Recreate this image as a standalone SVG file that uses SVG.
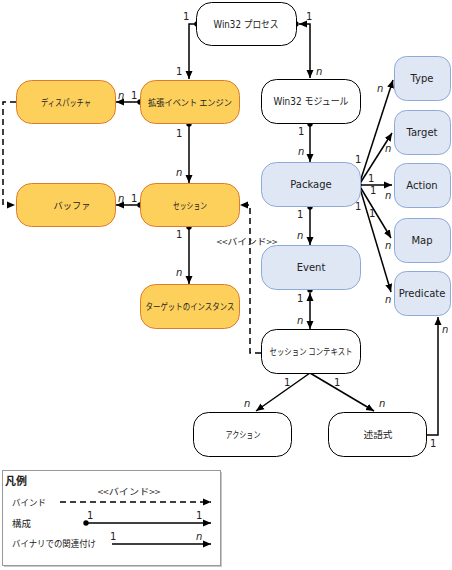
<svg xmlns="http://www.w3.org/2000/svg" width="452" height="570" viewBox="0 0 452 570">
<style>
.w{fill:#fff;stroke:#000;stroke-width:1}
.o{fill:#FDD05C;stroke:#E07A2E;stroke-width:1}
.b{fill:#DFE7F4;stroke:#8EAAD9;stroke-width:1}
.t{font-family:"DejaVu Sans","Noto Sans CJK JP",sans-serif;font-size:10px;fill:#222;text-anchor:middle}
.j{font-family:"Noto Sans CJK JP","DejaVu Sans",sans-serif;font-size:9px;fill:#222;text-anchor:middle}
.l{font-family:"DejaVu Sans",sans-serif;font-size:10px;fill:#222}
.n{font-style:italic}
.c{fill:none;stroke:#000;stroke-width:1.5}
.d{fill:none;stroke:#000;stroke-width:1.5;stroke-dasharray:6,4}
</style>
<defs>
<marker id="a" markerUnits="userSpaceOnUse" markerWidth="9" markerHeight="8" refX="8" refY="4" orient="auto-start-reverse"><path d="M0,0.5 L8,4 L0,7.5 z" fill="#000"/></marker>
<marker id="p" markerUnits="userSpaceOnUse" markerWidth="7" markerHeight="7" refX="3.5" refY="3.5"><circle cx="3.5" cy="3.5" r="2.7" fill="#000"/></marker>
</defs>

<g id="connectors">
<path class="c" d="M197,24 H189 V79" marker-start="url(#p)" marker-end="url(#a)"/>
<circle cx="296" cy="24" r="2.7"/>
<path class="c" d="M299,24 H310 V78" marker-start="url(#a)" marker-end="url(#a)"/>
<path class="c" d="M140,102 H116" marker-start="url(#p)" marker-end="url(#a)"/>
<path class="c" d="M189,124 V183" marker-start="url(#p)" marker-end="url(#a)"/>
<path class="c" d="M140,205 H116" marker-start="url(#p)" marker-end="url(#a)"/>
<path class="c" d="M189,227 V284" marker-start="url(#p)" marker-end="url(#a)"/>
<path class="c" d="M310,124 V162" marker-start="url(#p)" marker-end="url(#a)"/>
<path class="c" d="M310,207 V245" marker-start="url(#p)" marker-end="url(#a)"/>
<circle cx="310" cy="290" r="2.7"/>
<path class="c" d="M310,293 V329" marker-start="url(#a)" marker-end="url(#a)"/>
<path class="c" d="M310,373 L256,411" marker-end="url(#a)"/>
<path class="c" d="M310,373 L374,411" marker-end="url(#a)"/>
<path class="c" d="M427,435 H438 V317" marker-end="url(#a)"/>
<circle cx="359" cy="185" r="2.7"/>
<path class="c" d="M359,185 L393,80" marker-end="url(#a)"/>
<path class="c" d="M359,185 L392,133" marker-end="url(#a)"/>
<path class="c" d="M359,185 L392,185" marker-end="url(#a)"/>
<path class="c" d="M359,185 L391,238" marker-end="url(#a)"/>
<path class="c" d="M359,185 L391,292" marker-end="url(#a)"/>
<path class="d" d="M16,102 H3 V205 H15" marker-end="url(#a)"/>
<path class="d" d="M261,353 H250 V205 H240" marker-end="url(#a)"/>
<text class="j" x="247" y="245" textLength="61" lengthAdjust="spacingAndGlyphs">&lt;&lt;バインド&gt;&gt;</text>
<g class="l">
<text x="183" y="20">1</text>
<text x="176" y="75">1</text>
<text x="306" y="20">1</text>
<text x="316" y="75" class="n">n</text>
<text x="118" y="99" class="n">n</text>
<text x="131" y="99">1</text>
<text x="176" y="137">1</text>
<text x="176" y="176" class="n">n</text>
<text x="118" y="202" class="n">n</text>
<text x="131" y="202">1</text>
<text x="176" y="238">1</text>
<text x="176" y="276" class="n">n</text>
<text x="298" y="135">1</text>
<text x="298" y="155" class="n">n</text>
<text x="297" y="218">1</text>
<text x="297" y="239" class="n">n</text>
<text x="297" y="302">1</text>
<text x="297" y="324" class="n">n</text>
<text x="284" y="386">1</text>
<text x="334" y="386">1</text>
<text x="244" y="407" class="n">n</text>
<text x="379" y="407" class="n">n</text>
<text x="430" y="447">1</text>
<text x="442" y="333" class="n">n</text>
<text x="377" y="92" class="n">n</text>
<text x="355" y="163">1</text>
<text x="385" y="152" class="n">n</text>
<text x="368" y="182">1</text>
<text x="370" y="194">1</text>
<text x="385" y="199" class="n">n</text>
<text x="355" y="210">1</text>
<text x="369" y="217">1</text>
<text x="385" y="249" class="n">n</text>
<text x="385" y="303" class="n">n</text>
</g>
</g>

<g id="win32-process"><rect class="w" x="196.5" y="2.5" width="100" height="43" rx="15"/><text class="t" x="246" y="28" textLength="65" lengthAdjust="spacingAndGlyphs">Win32 プロセス</text></g>
<g id="dispatcher"><rect class="o" x="16.5" y="80.5" width="99" height="43" rx="15"/><text class="j" x="66" y="106" textLength="50" lengthAdjust="spacingAndGlyphs">ディスパッチャ</text></g>
<g id="ext-engine"><rect class="o" x="140.5" y="80.5" width="99" height="43" rx="15"/><text class="j" x="190" y="106" textLength="84" lengthAdjust="spacingAndGlyphs">拡張イベント エンジン</text></g>
<g id="win32-module"><rect class="w" x="261.5" y="79.5" width="99" height="44" rx="15"/><text class="t" x="311" y="105" textLength="75" lengthAdjust="spacingAndGlyphs">Win32 モジュール</text></g>
<g id="buffer"><rect class="o" x="16.5" y="183.5" width="99" height="43" rx="15"/><text class="j" x="72" y="209" textLength="37" lengthAdjust="spacingAndGlyphs">バッファ</text></g>
<g id="session"><rect class="o" x="140.5" y="183.5" width="99" height="43" rx="15"/><text class="j" x="190" y="209" textLength="34" lengthAdjust="spacingAndGlyphs">セッション</text></g>
<g id="target-instance"><rect class="o" x="140.5" y="284.5" width="99" height="44" rx="15"/><text class="j" x="190" y="310" textLength="89" lengthAdjust="spacingAndGlyphs">ターゲットのインスタンス</text></g>
<g id="package"><rect class="b" x="261.5" y="162.5" width="99" height="44" rx="15"/><text class="t" x="311" y="188">Package</text></g>
<g id="event"><rect class="b" x="261.5" y="245.5" width="99" height="44" rx="15"/><text class="t" x="311" y="271">Event</text></g>
<g id="session-context"><rect class="w" x="261.5" y="329.5" width="99" height="44" rx="15"/><text class="j" x="311" y="355" textLength="83" lengthAdjust="spacingAndGlyphs">セッション コンテキスト</text></g>
<g id="action-jp"><rect class="w" x="193.5" y="412.5" width="98" height="44" rx="15"/><text class="j" x="243" y="438" textLength="35" lengthAdjust="spacingAndGlyphs">アクション</text></g>
<g id="predicate-jp"><rect class="w" x="328.5" y="412.5" width="98" height="44" rx="15"/><text class="j" x="378" y="438" textLength="29" lengthAdjust="spacingAndGlyphs">述語式</text></g>
<g id="type"><rect class="b" x="394.5" y="56.5" width="56" height="44" rx="12"/><text class="t" x="422" y="82">Type</text></g>
<g id="target"><rect class="b" x="394.5" y="110.5" width="56" height="44" rx="12"/><text class="t" x="422" y="136">Target</text></g>
<g id="action"><rect class="b" x="394.5" y="163.5" width="56" height="44" rx="12"/><text class="t" x="422" y="189">Action</text></g>
<g id="map"><rect class="b" x="394.5" y="218.5" width="56" height="44" rx="12"/><text class="t" x="422" y="244">Map</text></g>
<g id="predicate"><rect class="b" x="394.5" y="271.5" width="56" height="44" rx="12"/><text class="t" x="422" y="297">Predicate</text></g>

<g id="legend">
<rect x="4" y="472" width="218" height="95" fill="#c8c8c8"/>
<rect x="2.5" y="470.5" width="218" height="95" fill="#fff" stroke="#999"/>
<text x="5" y="485" style="font-family:'Noto Sans CJK JP',sans-serif;font-size:11px;font-weight:bold;fill:#222">凡例</text>
<text x="12" y="506" class="j" style="text-anchor:start" textLength="34" lengthAdjust="spacingAndGlyphs">バインド</text>
<text x="12" y="527" class="j" style="text-anchor:start" textLength="19" lengthAdjust="spacingAndGlyphs">構成</text>
<text x="12" y="547" class="j" style="text-anchor:start" textLength="84" lengthAdjust="spacingAndGlyphs">バイナリでの関連付け</text>
<text class="j" x="129" y="495" textLength="63" lengthAdjust="spacingAndGlyphs">&lt;&lt;バインド&gt;&gt;</text>
<path class="d" d="M60,502 H211" marker-end="url(#a)"/>
<path class="c" d="M86,523 H211" marker-start="url(#p)" marker-end="url(#a)"/>
<path class="c" d="M112,544 H211" marker-end="url(#a)"/>
<g class="l">
<text x="87" y="519">1</text>
<text x="196" y="519">1</text>
<text x="110" y="540">1</text>
<text x="196" y="540" class="n">n</text>
</g>
</g>
</svg>
